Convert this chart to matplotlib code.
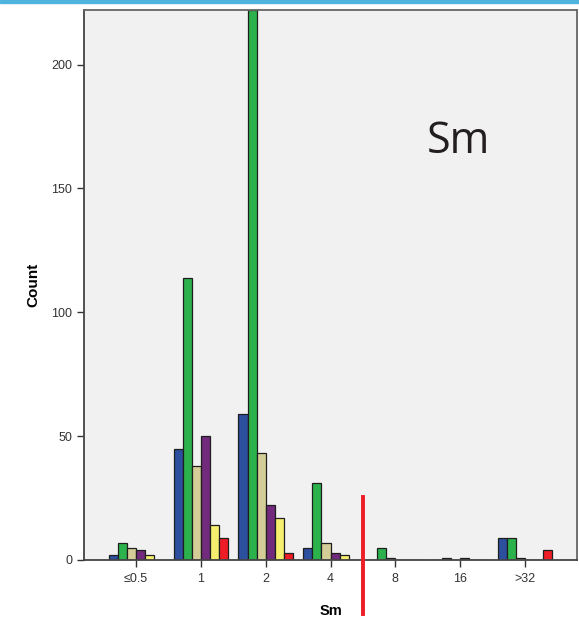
import matplotlib
matplotlib.use('Agg')
import matplotlib.pyplot as plt
import numpy as np

# categories of Sm and counts per group (6 groups)
categories = ['\u22640.5', '1', '2', '4', '8', '16', '>32']
blue   = [2, 45, 59, 5, 0, 0, 9]
green  = [7, 114, 222, 31, 5, 1, 9]
tan    = [5, 38, 43, 7, 1, 0, 1]
purple = [4, 50, 22, 3, 0, 1, 0]
yellow = [2, 14, 17, 2, 0, 0, 0]
red    = [0, 9, 3, 0, 0, 0, 4]
cutoff = 3.5   # red marker between 4 and 8

series = [blue, green, tan, purple, yellow, red]
colors = ['#2c4f9e', '#2bb24c', '#d4cd98', '#722a7c', '#f6ee6e', '#ee1c25']

plt.rcParams['font.family'] = ['Liberation Sans', 'DejaVu Sans']

fig = plt.figure(figsize=(5.79, 6.17), dpi=100)
ax = fig.add_axes([84/579, 1-560/617, (577-84)/579, (560-10)/617])
ax.set_facecolor('#f0f1f0')

x = np.arange(len(categories))
w = 0.1395
for k, (vals, col) in enumerate(zip(series, colors)):
    ax.bar(x + (k - 2.5)*w, vals, width=w, color=col, edgecolor='#1e1e1e',
           linewidth=0.9, zorder=2)

ax.set_xlim(-0.8, 6.8)
ax.set_ylim(0, 222)
ax.set_xticks(x)
ax.set_xticklabels(categories)
ax.set_yticks([0, 50, 100, 150, 200])
ax.tick_params(axis='both', labelsize=9, colors='#333333', length=5, width=1)
ax.tick_params(axis='x', pad=4)

for s in ax.spines.values():
    s.set_color('#666666')
    s.set_linewidth(1.3)
ax.spines['left'].set_color('#444444')
ax.spines['bottom'].set_color('#444444')

ax.set_ylabel('Count', fontsize=11, fontweight='bold', labelpad=8)
ax.set_xlabel('Sm', fontsize=10.5, fontweight='bold', labelpad=14)

# red cut-off line, drawn past the axis
ax.plot([cutoff, cutoff], [25.3, -21.6], color='#ee1c25', linewidth=2.8,
        clip_on=False, zorder=5)

ax.text(0.759, 0.740, 'Sm', transform=ax.transAxes, fontsize=31,
        family=['Open Sans', 'DejaVu Sans'], color='#231f20',
        ha='center', va='baseline')

# thin blue strip at the top of the page
fig.add_artist(plt.Rectangle((0, 1-2.5/617), 1, 2.5/617, transform=fig.transFigure,
                             color='#4fb3e0', zorder=10))

fig.savefig('out.png', dpi=100)
